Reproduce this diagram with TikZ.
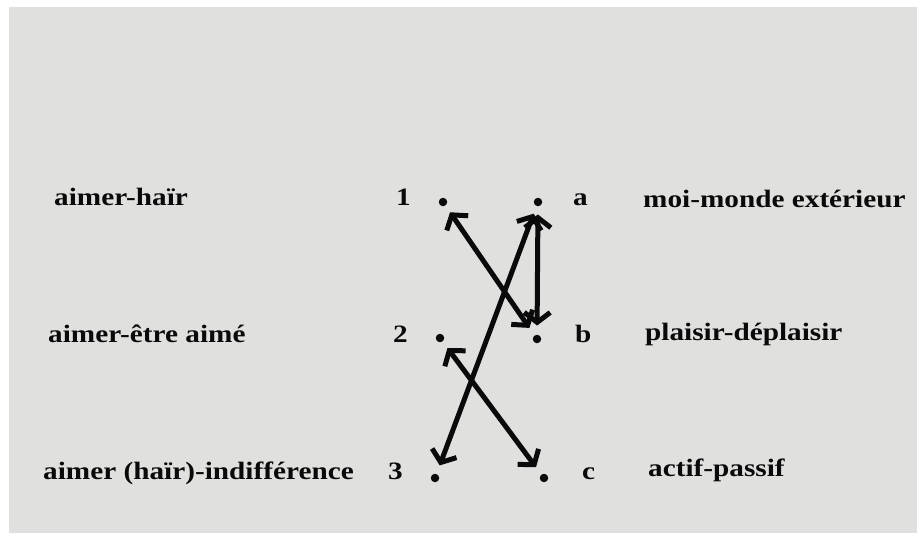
\documentclass[tikz,border=0pt]{standalone}
\usepackage{fontspec}
\setmainfont{Liberation Serif}[FakeStretch=1.17]
\usetikzlibrary{arrows.meta}
\definecolor{cPaper}{HTML}{E0E0DE}
\definecolor{cInk}{HTML}{0A0A0A}

\begin{document}
\begin{tikzpicture}[
  x=1pt, y=-1pt,
  font=\fontsize{25}{29}\selectfont\bfseries,
  lbl/.style={anchor=base west, inner sep=0pt, text=cInk},
  num/.style={anchor=base east, inner sep=0pt, text=cInk},
  dot/.style={circle, fill=cInk, inner sep=0pt, minimum size=8.5pt},
  barb/.tip={Straight Barb[length=10pt, width=26pt]},
  link/.style={barb-barb, draw=cInk, line width=5pt, line cap=round,
               shorten <=8pt, shorten >=9pt},
]

% ---- paper -------------------------------------------------------------
\useasboundingbox (0,0) rectangle (917,533);
\fill[white] (0,0) rectangle (917,533);
\fill[cPaper] (9,7) rectangle (917,533);

% ---- left column: the three oppositions of loving ----------------------
\node[lbl] (love1) at (54,205) {aimer-haïr};
\node[lbl] (love2) at (48,342) {aimer-être aimé};
\node[lbl] (love3) at (43,479) {aimer (haïr)-indifférence};

\node[num] (n1) at (411,205) {1};
\node[num] (n2) at (408,342) {2};
\node[num] (n3) at (403,479) {3};

% ---- right column: the three polarities --------------------------------
\node[lbl] (la) at (573,205) {a};
\node[lbl] (lb) at (575,342) {b};
\node[lbl] (lc) at (582,479) {c};

\node[lbl] (pol1) at (643,207) {moi-monde extérieur};
\node[lbl] (pol2) at (645,340) {plaisir-déplaisir};
\node[lbl] (pol3) at (648,476) {actif-passif};

% ---- points --------------------------------------------------------------
\node[dot] (p1) at (443,202) {};
\node[dot] (p2) at (440,338) {};
\node[dot] (p3) at (435,478) {};
\node[dot] (pa) at (538,202) {};
\node[dot] (pb) at (537,339) {};
\node[dot] (pc) at (544,478) {};

% ---- correspondences ----------------------------------------------------
\draw[link] (p1) -- (pb);
\draw[link] (pa) -- (pb);
\draw[link] (pa) -- (p3);
\draw[link] (p2) -- (pc);

\end{tikzpicture}
\end{document}
